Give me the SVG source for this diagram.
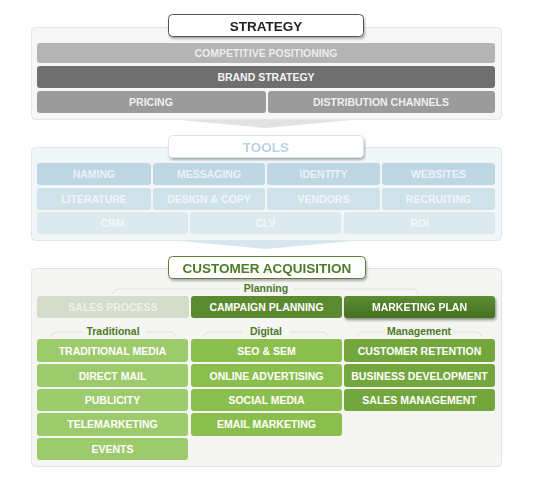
<svg xmlns="http://www.w3.org/2000/svg" width="536" height="489" viewBox="0 0 536 489">
<defs>
<style>
text{font-family:"Liberation Sans",Arial,sans-serif;font-weight:bold;text-anchor:middle;}
.t{font-size:10.5px;}
.h{font-size:13.5px;}
.lab{font-size:10.5px;fill:#4b7a27;}
.panel{stroke-width:1;}
.brk{fill:none;stroke:#e0e0dc;stroke-width:1;}
</style>
<linearGradient id="mp" x1="0" y1="0" x2="0" y2="1">
<stop offset="0" stop-color="#5d8c33"/><stop offset="1" stop-color="#44701f"/>
</linearGradient>
<filter id="sh" x="-10%" y="-30%" width="120%" height="170%">
<feGaussianBlur in="SourceAlpha" stdDeviation="1.5"/><feOffset dx="1" dy="2"/>
<feComponentTransfer><feFuncA type="linear" slope="0.45"/></feComponentTransfer>
<feMerge><feMergeNode/><feMergeNode in="SourceGraphic"/></feMerge>
</filter>
<filter id="sh2" x="-10%" y="-30%" width="120%" height="170%">
<feGaussianBlur in="SourceAlpha" stdDeviation="1"/><feOffset dx="1" dy="1.5"/>
<feComponentTransfer><feFuncA type="linear" slope="0.3"/></feComponentTransfer>
<feMerge><feMergeNode/><feMergeNode in="SourceGraphic"/></feMerge>
</filter>
</defs>
<rect width="536" height="489" fill="#ffffff"/>

<!-- connectors / chevrons -->
<g id="connectors">
<path d="M180,120 L352,120 L266,128 Z" fill="#e2e2e2"/>
<path d="M180,241 L352,241 L266,249 Z" fill="#d6e6ee"/>
<path d="M246,63 L286,63 L266,67 Z" fill="#b3b3b3"/>
<path d="M131,88 L171,88 L151,92 Z" fill="#6e6e6e"/>
<path d="M361,88 L401,88 L381,92 Z" fill="#6e6e6e"/>
</g>

<!-- STRATEGY -->
<g id="strategy-panel">
<rect x="31.5" y="27.5" width="470" height="92" rx="4" fill="#f6f6f6" stroke="#e4e4e4"/>
</g>
<g id="strategy-title" filter="url(#sh2)">
<rect x="168.5" y="14.5" width="195" height="22" rx="4" fill="#ffffff" stroke="#555"/>
<text class="h" x="266" y="30.5" fill="#222">STRATEGY</text>
</g>
<g id="competitive-positioning">
<rect x="37" y="43" width="458" height="20" rx="3" fill="#b4b4b4"/>
<text class="t" x="266" y="57" fill="#ececec">COMPETITIVE POSITIONING</text>
</g>
<g id="brand-strategy">
<rect x="37" y="66" width="458" height="22" rx="3" fill="#6f6f6f"/>
<text class="t" x="266" y="81" fill="#f4f4f4">BRAND STRATEGY</text>
</g>
<g id="pricing">
<rect x="37" y="91" width="229" height="22" rx="3" fill="#9b9b9b"/>
<text class="t" x="151" y="106" fill="#f0f0f0">PRICING</text>
</g>
<g id="distribution-channels">
<rect x="268" y="91" width="227" height="22" rx="3" fill="#9b9b9b"/>
<text class="t" x="381" y="106" fill="#f0f0f0">DISTRIBUTION CHANNELS</text>
</g>

<!-- TOOLS -->
<g id="tools-panel">
<rect x="31.5" y="147.5" width="470" height="93" rx="4" fill="#f1f6f8" stroke="#dce8ed"/>
</g>
<g id="tools-title" filter="url(#sh2)">
<rect x="168.5" y="135.5" width="195" height="22" rx="4" fill="#ffffff" stroke="#d6e4ea"/>
<text class="h" x="266" y="152" fill="#b9d3df">TOOLS</text>
</g>
<g id="naming"><rect x="37" y="163" width="114" height="22" rx="3" fill="#bed7e3"/><text class="t" x="94" y="178" fill="#eaf3f7">NAMING</text></g>
<g id="messaging"><rect x="153" y="163" width="112" height="22" rx="3" fill="#bed7e3"/><text class="t" x="209" y="178" fill="#eaf3f7">MESSAGING</text></g>
<g id="identity"><rect x="267" y="163" width="113" height="22" rx="3" fill="#bed7e3"/><text class="t" x="323.5" y="178" fill="#eaf3f7">IDENTITY</text></g>
<g id="websites"><rect x="382" y="163" width="113" height="22" rx="3" fill="#bed7e3"/><text class="t" x="438.5" y="178" fill="#eaf3f7">WEBSITES</text></g>
<g id="literature"><rect x="37" y="188" width="114" height="22" rx="3" fill="#cfe2ea"/><text class="t" x="94" y="203" fill="#eff6f9">LITERATURE</text></g>
<g id="design-copy"><rect x="153" y="188" width="112" height="22" rx="3" fill="#cfe2ea"/><text class="t" x="209" y="203" fill="#eff6f9">DESIGN &amp; COPY</text></g>
<g id="vendors"><rect x="267" y="188" width="113" height="22" rx="3" fill="#cfe2ea"/><text class="t" x="323.5" y="203" fill="#eff6f9">VENDORS</text></g>
<g id="recruiting"><rect x="382" y="188" width="113" height="22" rx="3" fill="#cfe2ea"/><text class="t" x="438.5" y="203" fill="#eff6f9">RECRUITING</text></g>
<g id="crm"><rect x="37" y="212" width="151" height="22" rx="3" fill="#dceaf0"/><text class="t" x="112.5" y="227" fill="#f3f8fa">CRM</text></g>
<g id="clv"><rect x="190" y="212" width="151" height="22" rx="3" fill="#dceaf0"/><text class="t" x="265.5" y="227" fill="#f3f8fa">CLV</text></g>
<g id="roi"><rect x="344" y="212" width="151" height="22" rx="3" fill="#dceaf0"/><text class="t" x="419.5" y="227" fill="#f3f8fa">ROI</text></g>

<!-- CUSTOMER ACQUISITION -->
<g id="ca-panel">
<rect x="31.5" y="268.5" width="470" height="198" rx="4" fill="#f5f5f3" stroke="#e2e2de"/>
</g>
<g id="ca-title" filter="url(#sh2)">
<rect x="168.5" y="256.5" width="197" height="22" rx="4" fill="#ffffff" stroke="#5b7d3b"/>
<text class="h" x="267" y="272.5" fill="#4e7a2a">CUSTOMER ACQUISITION</text>
</g>
<g id="brackets">
<path class="brk" d="M113,294 Q113,289 120,289 L240,289 M294,289 L412,289 Q418,289 418,294"/>
<path class="brk" d="M51,337 Q51,332 58,332 L82,332 M146,332 L169,332 Q175,332 175,337"/>
<path class="brk" d="M204,337 Q204,332 211,332 L242,332 M290,332 L321,332 Q328,332 328,337"/>
<path class="brk" d="M357,337 Q357,332 364,332 L385,332 M453,332 L474,332 Q481,332 481,337"/>
</g>
<text class="lab" x="266" y="292">Planning</text>
<text class="lab" x="113" y="335">Traditional</text>
<text class="lab" x="266" y="335">Digital</text>
<text class="lab" x="419" y="335">Management</text>

<g id="sales-process"><rect x="37" y="296" width="152" height="22" rx="3" fill="#d5dccc"/><text class="t" x="113" y="311" fill="#eef2e9">SALES PROCESS</text></g>
<g id="campaign-planning"><rect x="191" y="296" width="151" height="22" rx="3" fill="#5c8b2f"/><text class="t" x="266.5" y="311" fill="#ffffff">CAMPAIGN PLANNING</text></g>
<g id="marketing-plan" filter="url(#sh)"><rect x="344" y="296" width="151" height="22" rx="3" fill="url(#mp)"/><text class="t" x="419.5" y="311" fill="#ffffff">MARKETING PLAN</text></g>

<g id="traditional-media"><rect x="37" y="339" width="151" height="23" rx="3" fill="#9dca6b"/><text class="t" x="112.5" y="354.5" fill="#ffffff">TRADITIONAL MEDIA</text></g>
<g id="direct-mail"><rect x="37" y="364" width="151" height="23" rx="3" fill="#9dca6b"/><text class="t" x="112.5" y="379.5" fill="#ffffff">DIRECT MAIL</text></g>
<g id="publicity"><rect x="37" y="389" width="151" height="22" rx="3" fill="#9dca6b"/><text class="t" x="112.5" y="404" fill="#ffffff">PUBLICITY</text></g>
<g id="telemarketing"><rect x="37" y="413" width="151" height="23" rx="3" fill="#9dca6b"/><text class="t" x="112.5" y="428" fill="#ffffff">TELEMARKETING</text></g>
<g id="events"><rect x="37" y="438" width="151" height="22" rx="3" fill="#9dca6b"/><text class="t" x="112.5" y="453" fill="#ffffff">EVENTS</text></g>

<g id="seo-sem"><rect x="191" y="339" width="151" height="23" rx="3" fill="#8bbf4d"/><text class="t" x="266.5" y="354.5" fill="#ffffff">SEO &amp; SEM</text></g>
<g id="online-advertising"><rect x="191" y="364" width="151" height="23" rx="3" fill="#8bbf4d"/><text class="t" x="266.5" y="379.5" fill="#ffffff">ONLINE ADVERTISING</text></g>
<g id="social-media"><rect x="191" y="389" width="151" height="22" rx="3" fill="#8bbf4d"/><text class="t" x="266.5" y="404" fill="#ffffff">SOCIAL MEDIA</text></g>
<g id="email-marketing"><rect x="191" y="413" width="151" height="23" rx="3" fill="#8bbf4d"/><text class="t" x="266.5" y="428" fill="#ffffff">EMAIL MARKETING</text></g>

<g id="customer-retention"><rect x="344" y="339" width="151" height="23" rx="3" fill="#73a73d"/><text class="t" x="419.5" y="354.5" fill="#ffffff">CUSTOMER RETENTION</text></g>
<g id="business-development"><rect x="344" y="364" width="151" height="23" rx="3" fill="#73a73d"/><text class="t" x="419.5" y="379.5" fill="#ffffff">BUSINESS DEVELOPMENT</text></g>
<g id="sales-management"><rect x="344" y="389" width="151" height="22" rx="3" fill="#73a73d"/><text class="t" x="419.5" y="404" fill="#ffffff">SALES MANAGEMENT</text></g>
</svg>
